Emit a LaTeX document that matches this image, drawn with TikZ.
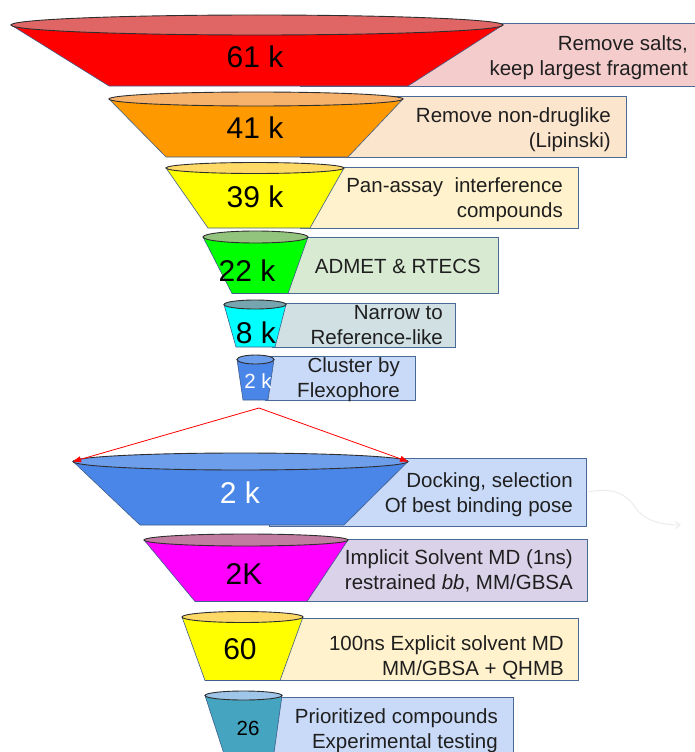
\documentclass[tikz,border=0pt]{standalone}
\usepackage{fontspec}
\setmainfont{Liberation Sans}
\usetikzlibrary{arrows.meta}
\definecolor{sideline}{HTML}{3F5E8C}
\definecolor{boxline}{HTML}{4A6A96}
\definecolor{topline}{HTML}{2E2E2E}
\definecolor{cRed}{HTML}{FF0000}\definecolor{tRed}{HTML}{E06666}\definecolor{bRed}{HTML}{F4CCCC}
\definecolor{cOra}{HTML}{FF9900}\definecolor{tOra}{HTML}{F6B26B}\definecolor{bOra}{HTML}{FCE5CD}
\definecolor{cYel}{HTML}{FFFF00}\definecolor{tYel}{HTML}{FFD966}\definecolor{bYel}{HTML}{FFF2CC}
\definecolor{cGre}{HTML}{00FF00}\definecolor{tGre}{HTML}{93C47D}\definecolor{bGre}{HTML}{D9EAD3}
\definecolor{cCya}{HTML}{00FFFF}\definecolor{tCya}{HTML}{76A5AF}\definecolor{bCya}{HTML}{D0E0E3}
\definecolor{cBlu}{HTML}{4A86E8}\definecolor{tBlu}{HTML}{6D9EEB}\definecolor{bBlu}{HTML}{C9DAF8}
\definecolor{cMag}{HTML}{FF00FF}\definecolor{tMag}{HTML}{C27BA0}\definecolor{bMag}{HTML}{D9D2E9}
\definecolor{cTea}{HTML}{45A5C0}\definecolor{tTea}{HTML}{9FC5E8}
\definecolor{faint}{HTML}{EBEBEB}
\newcommand\myfunnel[9]{%
  \filldraw[fill=#8, draw=sideline, line width=0.6pt] (#1-#3,#2) -- (#5,#7) -- (#6,#7) -- (#1+#3,#2) -- cycle;
  \filldraw[fill=#9, draw=topline, line width=0.9pt] (#1,#2) ellipse [x radius=#3, y radius=#4];
}
\tikzset{
  infobox/.style={draw=boxline, line width=1pt},
  boxtxt/.style={font=\fontsize{20.5}{25}\selectfont, align=right, anchor=east, inner sep=0pt,
                 text=black!88, text height=15pt, text depth=4.5pt},
  numlbl/.style={font=\fontsize{30}{30}\selectfont, inner sep=0pt, text=black},
  smallnum/.style={font=\fontsize{20.5}{21}\selectfont, inner sep=0pt},
}
\begin{document}
\begin{tikzpicture}[x=1pt,y=-1pt]
\useasboundingbox (0,0) rectangle (695,752);
\clip (0,0) rectangle (695,752);
% boxes
\filldraw[infobox, fill=bRed] (300,24) rectangle (700,86);
\filldraw[infobox, fill=bOra] (300,96) rectangle (626,157);
\filldraw[infobox, fill=bYel] (300,167) rectangle (578,228);
\filldraw[infobox, fill=bGre] (284,237) rectangle (498,293.5);
\filldraw[infobox, fill=bCya] (272,303) rectangle (455,347);
\filldraw[infobox, fill=bBlu] (265,356) rectangle (415,400);
\filldraw[infobox, fill=bBlu] (269,458) rectangle (586,526);
\filldraw[infobox, fill=bMag] (290,539) rectangle (587,601.5);
\filldraw[infobox, fill=bYel] (270,618) rectangle (578,680.5);
\filldraw[infobox, fill=bBlu] (265,697) rectangle (513,770);
% funnels
\myfunnel{257}{25}{246}{10}{109}{408}{86}{cRed}{tRed}
\myfunnel{256}{99}{147}{7}{166}{348}{157}{cOra}{tOra}
\myfunnel{255}{168}{89}{5.5}{208}{310}{228}{cYel}{tYel}
\myfunnel{255.5}{237}{52.5}{6}{232}{288}{293.5}{cGre}{tGre}
\myfunnel{255}{304.5}{31}{4.5}{236}{275}{347}{cCya}{tCya}
\myfunnel{255.5}{359.5}{18.5}{4.5}{243}{268}{400}{cBlu}{tBlu}
\myfunnel{240.5}{461.5}{167.5}{8.5}{140}{344}{525}{cBlu}{tBlu}
\myfunnel{246}{540}{102}{6}{195}{307}{601.5}{cMag}{tMag}
\myfunnel{242.5}{617}{60.5}{5.5}{205}{280}{680.5}{cYel}{tYel}
\myfunnel{243.5}{695.5}{38.5}{4.5}{226}{273}{760}{cTea}{tTea}
% red expansion connectors
\coordinate (apex) at (259,408);
\coordinate (bigL) at (73,461.5);
\coordinate (bigR) at (408,461.5);
\draw[red, line width=0.8pt, -{Triangle[length=8pt,width=6pt]}] (apex) -- (bigL);
\draw[red, line width=0.8pt, -{Triangle[length=8pt,width=6pt]}] (apex) -- (bigR);
% faint arrow
\coordinate (fa1) at (588,492);
\coordinate (fa2) at (681,525);
\draw[faint, line width=1pt, -{Straight Barb[length=5pt,width=7pt]}] (fa1) .. controls (612,487) and (627,494) .. (635,507) .. controls (643,520) and (660,525) .. (fa2);
% numbers
\node[numlbl] (n1) at (255,57) {61 k};
\node[numlbl] (n2) at (255,128) {41 k};
\node[numlbl] (n3) at (255,197) {39 k};
\node[numlbl] (n4) at (247,271) {22 k};
\node[numlbl] (n5) at (256,333) {8 k};
\node[smallnum, text=white] (n6) at (258,381) {2 k};
\node[numlbl, text=white] (n7) at (240,493) {2 k};
\node[numlbl] (n8) at (244,574) {2K};
\node[numlbl] (n9) at (240,649) {60};
\node[smallnum, text=black] (n10) at (248,728) {26};
% box texts
\node[boxtxt] (t1) at (688,70) {Remove salts,\\keep largest fragment};
\node[boxtxt] (t2) at (611,142) {Remove non-druglike\\(Lipinski)};
\node[boxtxt] (t3) at (563,212.5) {Pan-assay\ \ interference\\compounds};
\node[boxtxt] (t4) at (481,268) {ADMET \& RTECS};
\node[boxtxt] (t5) at (443,339) {Narrow to\\Reference-like};
\node[boxtxt] (t6) at (400,392) {Cluster by\\Flexophore};
\node[boxtxt] (t7) at (573,507) {Docking, selection\\Of best binding pose};
\node[boxtxt] (t8) at (573,584) {Implicit Solvent MD (1ns)\\restrained \textit{bb}, MM/GBSA};
\node[boxtxt] (t9) at (564,670) {100ns Explicit solvent MD\\MM/GBSA + QHMB};
\node[boxtxt] (t10) at (498,743) {Prioritized compounds\\Experimental testing};
\end{tikzpicture}
\end{document}
